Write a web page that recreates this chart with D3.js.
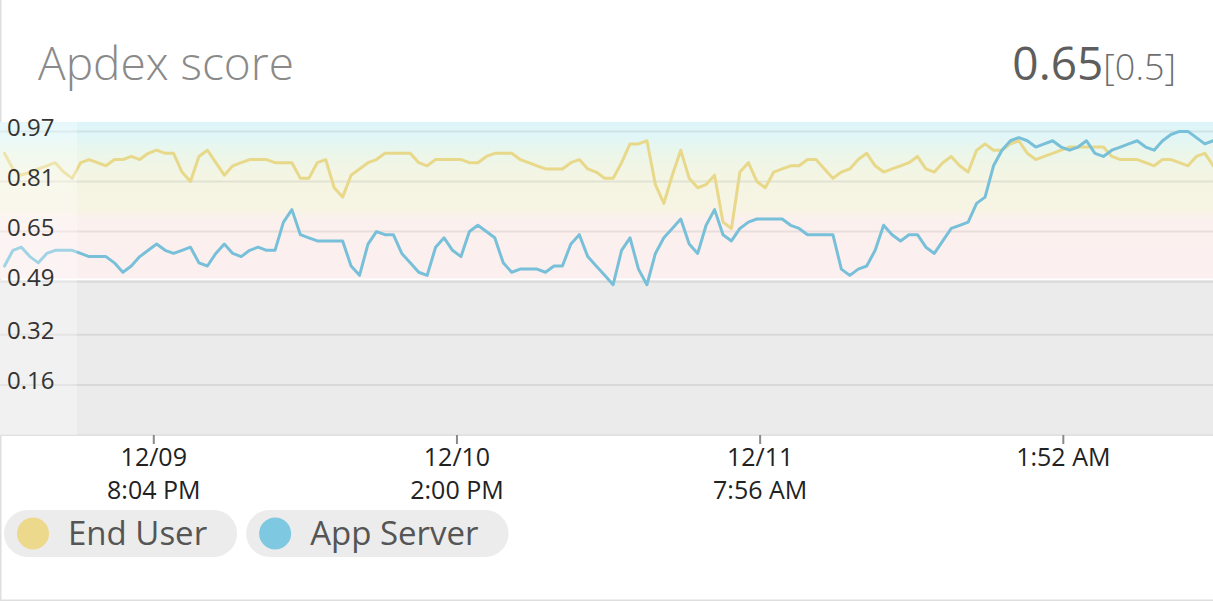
<!DOCTYPE html>
<html lang="en">
<head>
  <meta charset="UTF-8" />
  <title>Apdex score</title>
  <style>
    html, body { margin: 0; padding: 0; background: #fff; }
    body { font-family: "Open Sans", sans-serif; }
    svg { display: block; }
  </style>
</head>
<body>
  <div id="chart"></div>
  <script src="https://d3js.org/d3.v7.min.js"></script>
  <script>
    // ---- data ----
    var seriesNames = ["End User", "App Server"];
    var seriesColors = ["#e8d88a", "#78c0d9"];
    var legendDotColors = ["#ecd98b", "#7ec8e1"];

    // one sample every 30 minutes, first sample 12/09 11:16 AM
    var sampleStart = new Date(2014, 11, 9, 11, 16);
    var sampleStepMinutes = 30;

    var endUser = [
      0.90, 0.85, 0.83, 0.84, 0.85, 0.86, 0.87, 0.84, 0.82, 0.87,
      0.88, 0.87, 0.86, 0.88, 0.88, 0.89, 0.88, 0.90, 0.91, 0.90,
      0.90, 0.84, 0.81, 0.89, 0.91, 0.87, 0.83, 0.86, 0.87, 0.88,
      0.88, 0.88, 0.87, 0.87, 0.87, 0.82, 0.82, 0.87, 0.88, 0.79,
      0.76, 0.83, 0.85, 0.87, 0.88, 0.90, 0.90, 0.90, 0.90, 0.87,
      0.86, 0.88, 0.88, 0.88, 0.88, 0.87, 0.87, 0.89, 0.90, 0.90,
      0.90, 0.88, 0.87, 0.86, 0.85, 0.85, 0.85, 0.87, 0.88, 0.85,
      0.84, 0.82, 0.82, 0.87, 0.93, 0.93, 0.94, 0.80, 0.74, 0.83,
      0.91, 0.82, 0.79, 0.80, 0.83, 0.68, 0.66, 0.84, 0.87, 0.81,
      0.79, 0.84, 0.85, 0.86, 0.86, 0.88, 0.88, 0.85, 0.82, 0.84,
      0.85, 0.88, 0.90, 0.86, 0.84, 0.85, 0.86, 0.87, 0.89, 0.85,
      0.84, 0.87, 0.89, 0.86, 0.84, 0.91, 0.93, 0.91, 0.91, 0.93,
      0.94, 0.90, 0.88, 0.89, 0.90, 0.91, 0.92, 0.92, 0.92, 0.92,
      0.92, 0.89, 0.88, 0.88, 0.88, 0.87, 0.86, 0.88, 0.88, 0.87,
      0.86, 0.89, 0.90, 0.86
    ];

    var appServer = [
      0.54, 0.59, 0.60, 0.57, 0.55, 0.58, 0.59, 0.59, 0.59, 0.58,
      0.57, 0.57, 0.57, 0.55, 0.52, 0.54, 0.57, 0.59, 0.61, 0.59,
      0.58, 0.59, 0.60, 0.55, 0.54, 0.58, 0.61, 0.58, 0.57, 0.59,
      0.60, 0.59, 0.59, 0.68, 0.72, 0.64, 0.63, 0.62, 0.62, 0.62,
      0.62, 0.54, 0.51, 0.61, 0.65, 0.64, 0.64, 0.58, 0.55, 0.52,
      0.51, 0.60, 0.63, 0.59, 0.57, 0.65, 0.67, 0.65, 0.63, 0.55,
      0.52, 0.53, 0.53, 0.53, 0.52, 0.54, 0.54, 0.61, 0.64, 0.57,
      0.54, 0.51, 0.48, 0.59, 0.63, 0.53, 0.48, 0.58, 0.63, 0.66,
      0.69, 0.61, 0.58, 0.67, 0.72, 0.64, 0.62, 0.66, 0.68, 0.69,
      0.69, 0.69, 0.69, 0.67, 0.66, 0.64, 0.64, 0.64, 0.64, 0.53,
      0.51, 0.53, 0.54, 0.59, 0.67, 0.64, 0.62, 0.64, 0.64, 0.60,
      0.58, 0.62, 0.66, 0.67, 0.68, 0.74, 0.76, 0.86, 0.91, 0.94,
      0.95, 0.94, 0.92, 0.93, 0.94, 0.92, 0.91, 0.92, 0.94, 0.90,
      0.89, 0.91, 0.92, 0.93, 0.94, 0.92, 0.91, 0.94, 0.96, 0.97,
      0.97, 0.95, 0.93, 0.94
    ];

    var yTickValues = [0.16, 0.32, 0.49, 0.65, 0.81, 0.97];
    var xTickValues = [
      new Date(2014, 11, 9, 20, 4),
      new Date(2014, 11, 10, 14, 0),
      new Date(2014, 11, 11, 7, 56),
      new Date(2014, 11, 12, 1, 52)
    ];
    var xTickDates = ["12/09", "12/10", "12/11", ""];
    var xTickTimes = ["8:04 PM", "2:00 PM", "7:56 AM", "1:52 AM"];

    var currentScore = "0.65";
    var thresholdLabel = "[0.5]";

    // apdex zone gradient stops: [score, colour]
    var zoneStops = [
      [1.00, "#dcf5fa"],
      [0.955, "#e1f6f7"],
      [0.90, "#ebf6ea"],
      [0.83, "#f4f5e3"],
      [0.72, "#f7f4e4"],
      [0.69, "#fbf0ee"],
      [0.50, "#fbf0ef"]
    ];
    var unacceptableColor = "#ebebeb";

    // ---- layout ----
    var W = 1213, H = 601;
    var plot = {left: 0, right: 1213, top: 122, bottom: 435};

    var svg = d3.select("#chart")
      .append("svg")
      .attr("width", W)
      .attr("height", H);

    var x = d3.scaleTime()
      .domain([new Date(2014, 11, 9, 11, 0), new Date(2014, 11, 12, 10, 45)])
      .range([plot.left, plot.right]);

    var y = d3.scaleLinear()
      .domain([0, 1])
      .range([plot.bottom, plot.top]);

    var samples = endUser.map(function(d, i) {
      return d3.timeMinute.offset(sampleStart, i * sampleStepMinutes);
    });

    // card border
    svg.append("rect")
      .attr("x", 0.5).attr("y", -2)
      .attr("width", W + 2).attr("height", H + 1.5)
      .attr("fill", "none")
      .attr("stroke", "#dedede")
      .attr("stroke-width", 2);

    // title + current score
    svg.append("text")
      .attr("x", 38).attr("y", 80)
      .attr("font-size", 46)
      .attr("font-weight", 300)
      .attr("fill", "#8a8a8a")
      .text("Apdex score");

    var score = svg.append("text")
      .attr("x", 1176).attr("y", 80)
      .attr("text-anchor", "end")
      .attr("fill", "#5e5e5e");
    score.append("tspan").attr("font-size", 46).attr("font-weight", 400).text(currentScore);
    score.append("tspan").attr("font-size", 36).attr("font-weight", 300).attr("fill", "#6e6e6e").text(thresholdLabel);

    // zone background
    var defs = svg.append("defs");
    var grad = defs.append("linearGradient")
      .attr("id", "zones")
      .attr("gradientUnits", "userSpaceOnUse")
      .attr("x1", 0).attr("x2", 0)
      .attr("y1", y(1)).attr("y2", y(0.5));
    grad.selectAll("stop")
      .data(zoneStops)
      .enter().append("stop")
      .attr("offset", function(d) { return (1 - d[0]) / 0.5; })
      .attr("stop-color", function(d) { return d[1]; });

    defs.append("clipPath").attr("id", "plotclip")
      .append("rect")
      .attr("x", plot.left).attr("y", plot.top)
      .attr("width", plot.right - plot.left)
      .attr("height", plot.bottom - plot.top);

    svg.append("rect")
      .attr("x", plot.left).attr("y", y(1))
      .attr("width", plot.right - plot.left)
      .attr("height", y(0.5) - y(1))
      .attr("fill", "url(#zones)");

    svg.append("rect")
      .attr("x", plot.left).attr("y", y(0.495))
      .attr("width", plot.right - plot.left)
      .attr("height", y(0) - y(0.495))
      .attr("fill", unacceptableColor);

    // gridlines
    svg.append("g")
      .selectAll("line")
      .data(yTickValues)
      .enter().append("line")
      .attr("x1", plot.left).attr("x2", plot.right)
      .attr("y1", function(d) { return y(d); })
      .attr("y2", function(d) { return y(d); })
      .attr("stroke", "#000")
      .attr("stroke-opacity", 0.075)
      .attr("stroke-width", 2);

    svg.append("line")
      .attr("x1", plot.left).attr("x2", plot.right)
      .attr("y1", plot.bottom).attr("y2", plot.bottom)
      .attr("stroke", "#e2e2e2")
      .attr("stroke-width", 2);

    // series lines
    var line = d3.line()
      .x(function(d, i) { return x(samples[i]); })
      .y(function(d) { return y(d); });

    var lines = svg.append("g").attr("clip-path", "url(#plotclip)");
    [endUser, appServer].forEach(function(series, si) {
      lines.append("path")
        .datum(series)
        .attr("d", line)
        .attr("fill", "none")
        .attr("stroke", seriesColors[si])
        .attr("stroke-width", 3)
        .attr("stroke-linejoin", "round")
        .attr("stroke-linecap", "round");
    });

    // faded leading window
    svg.append("rect")
      .attr("x", plot.left).attr("y", y(1))
      .attr("width", 77)
      .attr("height", plot.bottom - y(1))
      .attr("fill", "#fff")
      .attr("fill-opacity", 0.3);

    // y labels
    svg.append("g")
      .selectAll("text")
      .data(yTickValues)
      .enter().append("text")
      .attr("x", 7)
      .attr("y", function(d) { return y(d) + 4.5; })
      .attr("font-size", 24)
      .attr("fill", "#333")
      .text(function(d) { return d3.format(".2f")(d); });

    // x axis
    var xAxis = svg.append("g")
      .attr("transform", "translate(0," + plot.bottom + ")")
      .call(d3.axisBottom(x).tickValues(xTickValues).tickSize(9).tickFormat(""));
    xAxis.select(".domain").remove();
    xAxis.selectAll(".tick line")
      .attr("stroke", "#8a8a8a")
      .attr("stroke-width", 2);

    xAxis.selectAll(".tick").each(function(d, i) {
      var rows = xTickDates[i] ? [xTickDates[i], xTickTimes[i]] : [xTickTimes[i]];
      var t = d3.select(this).select("text")
        .attr("y", 0).attr("dy", null)
        .attr("font-size", 25)
        .attr("font-family", "Open Sans, sans-serif")
        .attr("fill", "#222");
      rows.forEach(function(r, ri) {
        t.append("tspan").attr("x", 0).attr("y", 31 + ri * 33).text(r);
      });
    });

    // legend pills
    var lx = 4;
    seriesNames.forEach(function(name, i) {
      var g = svg.append("g").attr("transform", "translate(" + lx + ",510)");
      var pill = g.append("rect")
        .attr("height", 47).attr("rx", 23.5)
        .attr("fill", "#ececec");
      g.append("circle")
        .attr("cx", 29).attr("cy", 23.5).attr("r", 16)
        .attr("fill", legendDotColors[i]);
      var label = g.append("text")
        .attr("x", 64).attr("y", 35)
        .attr("font-size", 33)
        .attr("font-weight", 400)
        .attr("fill", "#555")
        .text(name);
      var w = 64 + label.node().getComputedTextLength() + 30;
      pill.attr("width", w);
      lx += w + 9;
    });
  </script>
</body>
</html>
